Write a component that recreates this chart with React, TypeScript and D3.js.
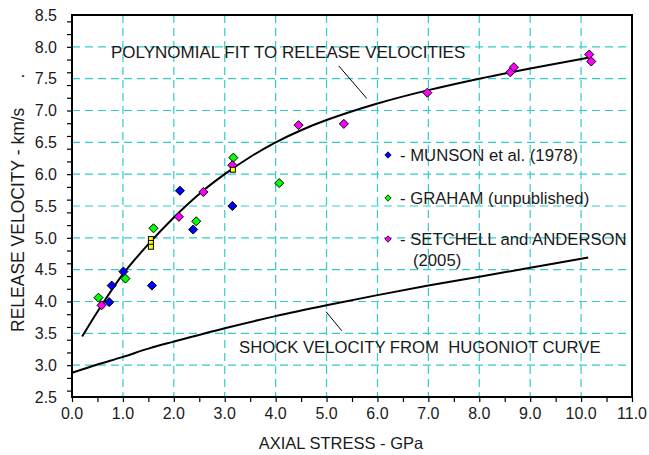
import React, { useEffect, useRef } from "react";
import * as d3 from "d3";

// data: [axial stress GPa, release velocity km/s]
const munson: [number, number][] = [
  [0.73, 3.99], [0.78, 4.25], [1.01, 4.47], [1.57, 4.25],
  [2.12, 5.74], [2.38, 5.13], [3.15, 5.5],
];
const graham: [number, number][] = [
  [0.52, 4.06], [1.05, 4.36], [1.6, 5.15], [2.44, 5.26], [3.17, 6.26], [4.07, 5.86],
];
const setchell: [number, number][] = [
  [0.58, 3.94], [2.1, 5.33], [2.58, 5.72], [3.15, 6.14], [4.45, 6.77], [5.34, 6.79],
  [6.98, 7.28], [8.61, 7.6], [8.68, 7.68], [10.16, 7.88], [10.2, 7.77],
];
const extraSquares: [number, number][] = [
  [1.55, 4.98], [1.55, 4.92], [1.55, 4.86], [3.16, 6.07],
];

// curves
const polyFit: [number, number][] = [
  [0.2, 3.45], [0.5, 3.84], [1.0, 4.43], [1.5, 4.9], [2.0, 5.32], [2.5, 5.69],
  [3.0, 6.0], [3.5, 6.27], [4.0, 6.5], [4.5, 6.69], [5.0, 6.85], [6.0, 7.11],
  [7.0, 7.32], [8.0, 7.5], [9.0, 7.66], [10.14, 7.83],
];
const hugoniot: [number, number][] = [
  [0, 2.88], [0.5, 3.01], [1, 3.13], [1.5, 3.26], [2, 3.37], [3, 3.58], [4, 3.77],
  [5, 3.94], [6, 4.1], [7, 4.25], [8, 4.39], [9, 4.53], [10.14, 4.69],
];

const legendItems = [
  { label: "- MUNSON et al. (1978)", color: "#0000ff" },
  { label: "- GRAHAM (unpublished)", color: "#00ff00" },
  { label: "- SETCHELL and ANDERSON", color: "#ff00ff" },
];

const xTicks = d3.range(0, 11.01, 1);
const yTicks = d3.range(2.5, 8.51, 0.5);

const FONT = "Arial, 'Liberation Sans', sans-serif";

export default function App() {
  const svgRef = useRef<SVGSVGElement>(null);

  useEffect(() => {
    const W = 649;
    const H = 455;
    const svg = d3.select(svgRef.current).attr("width", W).attr("height", H);
    svg.selectAll("*").remove();

    const x = d3.scaleLinear().domain([0, 11]).range([72, 632]);
    const y = d3.scaleLinear().domain([2.5, 8.5]).range([397, 15]);

    // grid
    const grid = svg.append("g").attr("stroke", "#33cccc").attr("stroke-width", 1.2)
      .attr("stroke-dasharray", "8,5");
    grid.selectAll(".gx").data(xTicks.filter((d) => d > 0 && d < 11)).enter()
      .append("line")
      .attr("x1", (d) => x(d)).attr("x2", (d) => x(d))
      .attr("y1", y(8.5)).attr("y2", y(2.5));
    grid.selectAll(".gy").data(yTicks.filter((d) => d > 2.5 && d < 8.5)).enter()
      .append("line")
      .attr("y1", (d) => y(d)).attr("y2", (d) => y(d))
      .attr("x1", x(0)).attr("x2", x(11));

    // axes
    const xAxis = svg.append("g").attr("transform", `translate(0,${y(2.5)})`)
      .call(d3.axisBottom(x).ticks(22).tickSize(5).tickFormat(() => ""));
    xAxis.select(".domain").remove();
    xAxis.selectAll("line").attr("stroke", "#000").attr("stroke-width", 1.2);
    const yAxis = svg.append("g").attr("transform", `translate(${x(0)},0)`)
      .call(d3.axisLeft(y).ticks(24).tickSize(5).tickFormat(() => ""));
    yAxis.select(".domain").remove();
    yAxis.selectAll("line").attr("stroke", "#000").attr("stroke-width", 1.2);

    svg.append("rect")
      .attr("x", x(0)).attr("y", y(8.5))
      .attr("width", x(11) - x(0)).attr("height", y(2.5) - y(8.5))
      .attr("fill", "none").attr("stroke", "#000").attr("stroke-width", 2);

    const txt = svg.append("g").attr("font-family", FONT).attr("fill", "#1a1a1a");
    txt.selectAll(".xl").data(xTicks).enter().append("text")
      .attr("x", (d) => x(d)).attr("y", y(2.5) + 22)
      .attr("text-anchor", "middle").attr("font-size", 16)
      .text((d) => d.toFixed(1));
    txt.selectAll(".yl").data(yTicks).enter().append("text")
      .attr("x", x(0) - 15).attr("y", (d) => y(d))
      .attr("dy", "0.36em").attr("text-anchor", "end").attr("font-size", 16)
      .text((d) => d.toFixed(1));

    txt.append("text").attr("x", 341).attr("y", 449)
      .attr("text-anchor", "middle").attr("font-size", 16.5)
      .text("AXIAL STRESS - GPa");
    txt.append("text")
      .attr("transform", "translate(24,332) rotate(-90)")
      .attr("font-size", 17.5).attr("xml:space", "preserve")
      .style("white-space", "pre")
      .text("RELEASE VELOCITY - km/s      .");

    // curves
    const line = d3.line<[number, number]>()
      .x((d) => x(d[0])).y((d) => y(d[1]))
      .curve(d3.curveCatmullRom);
    svg.append("path").datum(polyFit).attr("d", line)
      .attr("fill", "none").attr("stroke", "#000").attr("stroke-width", 2);
    svg.append("path").datum(hugoniot).attr("d", line)
      .attr("fill", "none").attr("stroke", "#000").attr("stroke-width", 2);

    // annotations
    svg.append("line")
      .attr("x1", x(5.24)).attr("y1", y(7.7)).attr("x2", x(5.79)).attr("y2", y(7.19))
      .attr("stroke", "#000").attr("stroke-width", 1);
    svg.append("line")
      .attr("x1", x(4.99)).attr("y1", y(3.84)).attr("x2", x(5.3)).attr("y2", y(3.54))
      .attr("stroke", "#000").attr("stroke-width", 1);
    txt.append("text").attr("x", 111).attr("y", 57.5).attr("font-size", 17)
      .text("POLYNOMIAL FIT TO RELEASE VELOCITIES");
    txt.append("text").attr("x", 239).attr("y", 353).attr("font-size", 16.7)
      .attr("xml:space", "preserve").style("white-space", "pre")
      .text("SHOCK VELOCITY FROM  HUGONIOT CURVE");

    // markers
    const diamond = d3.symbol().type(d3.symbolDiamond2).size(52);
    const drawSeries = (pts: [number, number][], color: string) => {
      svg.append("g").selectAll("path").data(pts).enter().append("path")
        .attr("d", diamond)
        .attr("transform", (d) => `translate(${x(d[0])},${y(d[1])})`)
        .attr("fill", color).attr("stroke", "#000").attr("stroke-width", 1);
    };
    drawSeries(munson, "#0000ff");
    drawSeries(graham, "#00ff00");
    drawSeries(setchell, "#ff00ff");
    svg.append("g").selectAll("rect").data(extraSquares).enter().append("rect")
      .attr("x", (d) => x(d[0]) - 2.5).attr("y", (d) => y(d[1]) - 2.5)
      .attr("width", 5).attr("height", 5)
      .attr("fill", "#ffff00").attr("stroke", "#000").attr("stroke-width", 1);

    // legend
    const legendRows = [155, 198, 239];
    const leg = svg.append("g");
    legendItems.forEach((item, i) => {
      leg.append("path").attr("d", d3.symbol().type(d3.symbolDiamond2).size(26)())
        .attr("transform", `translate(388,${legendRows[i]})`)
        .attr("fill", item.color).attr("stroke", "#000").attr("stroke-width", 0.8);
      leg.append("text").attr("x", 400).attr("y", legendRows[i]).attr("dy", "0.36em")
        .attr("font-family", FONT).attr("font-size", 16.7).attr("fill", "#1a1a1a")
        .text(item.label);
    });
    leg.append("text").attr("x", 413).attr("y", 260).attr("dy", "0.36em")
      .attr("font-family", FONT).attr("font-size", 16.7).attr("fill", "#1a1a1a")
      .text("(2005)");
  }, []);

  return (
    <div style={{ position: "absolute", left: 0, top: 0, background: "#fff" }}>
      <svg ref={svgRef} style={{ display: "block" }}></svg>
    </div>
  );
}
